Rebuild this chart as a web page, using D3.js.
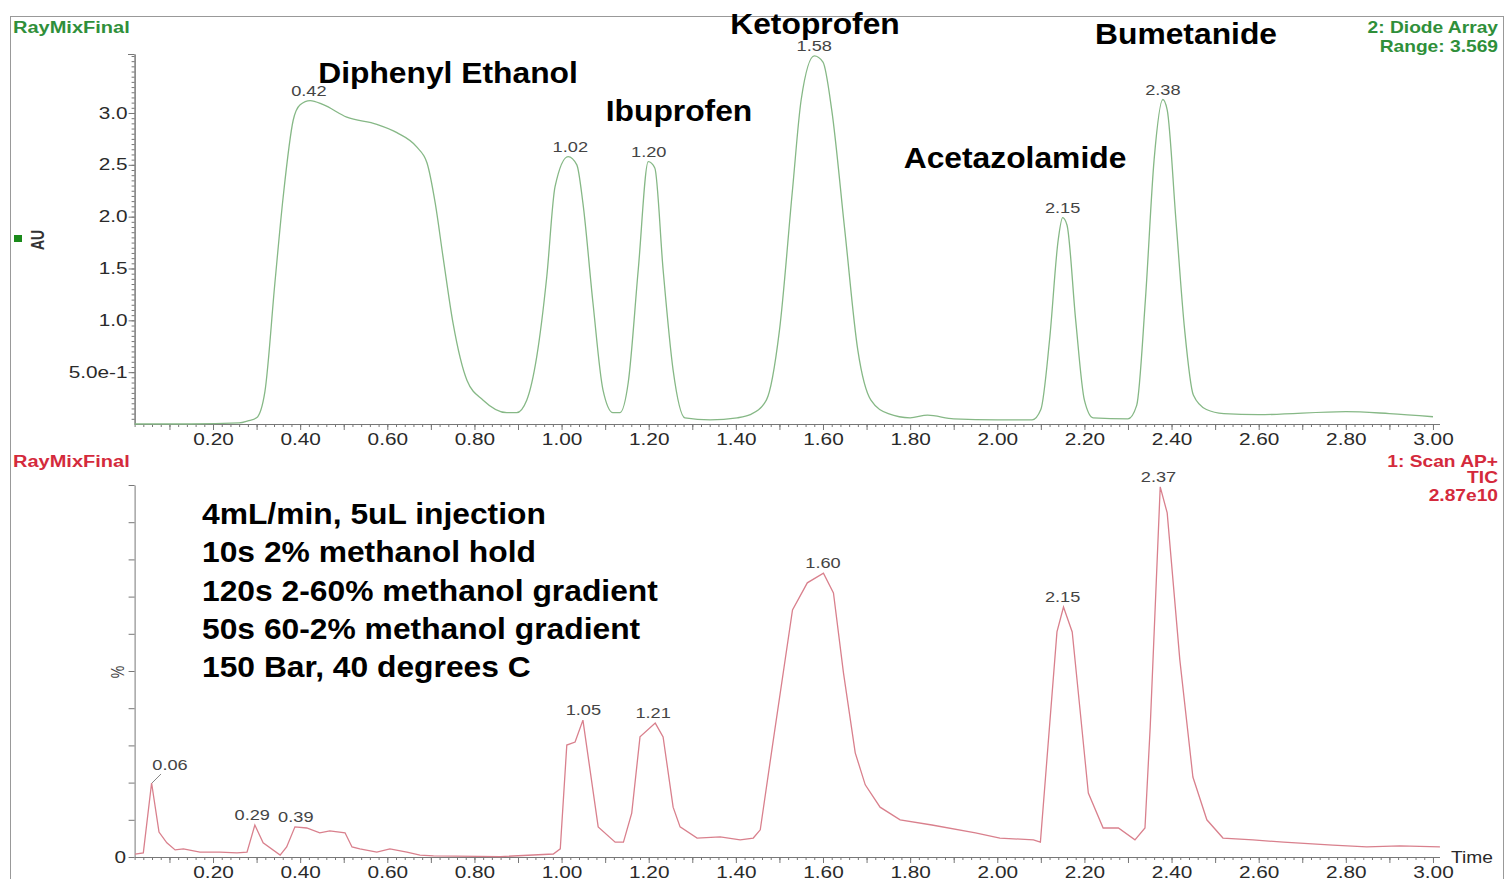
<!DOCTYPE html>
<html>
<head>
<meta charset="utf-8">
<script src="https://cdn.jsdelivr.net/npm/d3@7"></script>
<style>
  html, body { margin: 0; padding: 0; background: #fff; overflow: hidden; }
  svg { display: block; font-family: "Liberation Sans", Arial, sans-serif; }
</style>
</head>
<body>
<div id="chart"></div>
<script>
// ---- data ----
// top: diode array, absorbance (AU)
const topTime = [0.02, 0.15, 0.26, 0.28, 0.30, 0.319, 0.342, 0.361, 0.384, 0.40, 0.423, 0.453, 0.507, 0.576, 0.622, 0.668, 0.691, 0.710, 0.728, 0.751, 0.783, 0.820, 0.874, 0.897, 0.920, 0.943, 0.966, 0.985, 1.015, 1.035, 1.049, 1.072, 1.095, 1.118, 1.134, 1.153, 1.176, 1.199, 1.214, 1.233, 1.256, 1.283, 1.341, 1.403, 1.433, 1.47, 1.50, 1.53, 1.55, 1.58, 1.60, 1.62, 1.65, 1.68, 1.71, 1.75, 1.80, 1.84, 1.90, 2.00, 2.08, 2.10, 2.12, 2.14, 2.15, 2.16, 2.18, 2.20, 2.22, 2.30, 2.32, 2.34, 2.36, 2.38, 2.39, 2.41, 2.43, 2.45, 2.48, 2.52, 2.60, 2.80, 2.90, 3.00];
const topAU   = [0.0, 0.0, 0.01, 0.03, 0.06, 0.31, 1.36, 2.19, 2.93, 3.08, 3.12, 3.08, 2.96, 2.89, 2.81, 2.67, 2.52, 2.13, 1.61, 0.97, 0.42, 0.23, 0.11, 0.11, 0.23, 0.65, 1.42, 2.29, 2.58, 2.50, 2.13, 1.17, 0.33, 0.11, 0.11, 0.40, 1.49, 2.53, 2.47, 1.49, 0.52, 0.06, 0.04, 0.06, 0.09, 0.23, 0.90, 2.26, 3.13, 3.55, 3.49, 3.03, 1.87, 0.71, 0.23, 0.10, 0.06, 0.085, 0.05, 0.04, 0.04, 0.14, 0.81, 1.78, 1.99, 1.92, 1.00, 0.23, 0.06, 0.05, 0.18, 1.20, 2.55, 3.13, 3.03, 1.97, 0.91, 0.28, 0.14, 0.10, 0.09, 0.12, 0.10, 0.07];
const topPeaks = [0.42, 1.02, 1.20, 1.58, 2.15, 2.38];

// bottom: MS TIC, relative intensity (%)
const botTime = [0.021, 0.04, 0.059, 0.076, 0.094, 0.113, 0.132, 0.170, 0.216, 0.255, 0.278, 0.296, 0.315, 0.354, 0.369, 0.388, 0.415, 0.445, 0.468, 0.503, 0.519, 0.537, 0.576, 0.606, 0.645, 0.675, 0.706, 0.859, 0.981, 0.997, 1.012, 1.031, 1.049, 1.084, 1.123, 1.142, 1.161, 1.180, 1.215, 1.233, 1.256, 1.272, 1.311, 1.364, 1.410, 1.440, 1.456, 1.486, 1.530, 1.564, 1.601, 1.624, 1.647, 1.674, 1.697, 1.731, 1.777, 1.85, 1.95, 2.006, 2.083, 2.099, 2.137, 2.152, 2.172, 2.190, 2.209, 2.243, 2.278, 2.316, 2.339, 2.351, 2.374, 2.390, 2.419, 2.449, 2.481, 2.518, 2.587, 2.657, 2.770, 2.848, 2.924, 3.016];
const botPct  = [0.8, 1.1, 19.9, 6.7, 3.8, 1.9, 2.2, 1.3, 1.3, 1.1, 1.3, 8.6, 3.8, 0.5, 2.7, 8.1, 7.8, 6.5, 7.0, 6.5, 2.7, 2.2, 1.3, 2.2, 1.3, 0.5, 0.3, 0.1, 0.8, 2.2, 30.1, 30.9, 36.8, 8.1, 4.0, 4.0, 11.8, 32.3, 36.0, 32.3, 13.4, 8.1, 5.1, 5.4, 4.6, 5.1, 7.3, 31.5, 66.4, 73.7, 76.3, 71.0, 49.5, 28.0, 19.4, 13.4, 10.0, 8.6, 6.5, 5.1, 4.6, 4.0, 60.5, 67.2, 60.5, 39.5, 17.2, 7.8, 7.8, 4.6, 7.8, 34.9, 99.5, 92.5, 53.0, 21.5, 10.0, 5.1, 4.6, 4.0, 3.2, 2.7, 3.0, 2.7];
const botPeaks = [0.06, 0.29, 0.39, 1.05, 1.21, 1.60, 2.15, 2.37];

const xTicks = [0.2, 0.4, 0.6, 0.8, 1.0, 1.2, 1.4, 1.6, 1.8, 2.0, 2.2, 2.4, 2.6, 2.8, 3.0];
const auTicks = [0.5, 1.0, 1.5, 2.0, 2.5, 3.0];
const compounds = ["Diphenyl Ethanol", "Ibuprofen", "Ketoprofen", "Acetazolamide", "Bumetanide"];
const conditions = ["4mL/min, 5uL injection", "10s 2% methanol hold", "120s 2-60% methanol gradient", "50s 60-2% methanol gradient", "150 Bar, 40 degrees C"];

// ---- layout ----
const width = 1507, height = 879;
const S = 1.3;        // the original screenshot is stretched sideways
const green = "#2f8f3a", red = "#d42a3c";
const axisCol = "#777";

const svg = d3.select("#chart").append("svg")
  .attr("width", width).attr("height", height);

// frame
svg.append("rect")
  .attr("x", 10.5).attr("y", 16.5).attr("width", 1493).attr("height", 900)
  .attr("fill", "none").attr("stroke", "#999").attr("stroke-width", 1);

const x = d3.scaleLinear().domain([0.02, 3.015]).range([134.6, 1439.5]);
const yTop = d3.scaleLinear().domain([0, 3.569]).range([424, 54]);
const yBot = d3.scaleLinear().domain([0, 100]).range([857, 485]);

// stretched text helper
function stext(g, px, py, str, opts = {}) {
  return g.append("text")
    .attr("transform", `translate(${px},${py}) scale(${opts.s || S},1)`)
    .attr("text-anchor", opts.anchor || "start")
    .style("font-size", (opts.size || 16) + "px")
    .style("font-weight", opts.weight || "normal")
    .attr("fill", opts.fill || "#333")
    .text(str);
}

function styleAxis(g) {
  g.select(".domain").attr("stroke", axisCol);
  g.selectAll(".tick line").attr("stroke", axisCol);
}

function xAxes(yPos) {
  const minor = d3.range(1, 151).map(i => i * 0.02);
  const mid = d3.range(1, 31).map(i => i * 0.1);
  svg.append("g").attr("transform", `translate(0,${yPos})`)
    .call(d3.axisBottom(x).tickValues(minor).tickSize(3).tickFormat("").tickSizeOuter(0))
    .call(styleAxis);
  const g = svg.append("g").attr("transform", `translate(0,${yPos})`)
    .call(d3.axisBottom(x).tickValues(mid).tickSize(6).tickSizeOuter(0)
      .tickFormat(d => xTicks.some(t => Math.abs(t - d) < 1e-6) ? d3.format(".2f")(d) : ""))
    .call(styleAxis);
  g.selectAll("text")
    .attr("y", 10).attr("transform", `scale(${S},1)`)
    .style("font-size", "16px").attr("fill", "#2a2a2a")
    .style("font-family", "'Liberation Sans', Arial, sans-serif");
}

// ---------------- top panel ----------------
xAxes(424);

const yMinor = d3.range(1, 72).map(i => i * 0.05).filter(v => v <= 3.569);
svg.append("g").attr("transform", "translate(134.6,0)")
  .call(d3.axisLeft(yTop).tickValues(yMinor).tickSize(3).tickFormat("").tickSizeOuter(0))
  .call(styleAxis);
const yAxTop = svg.append("g").attr("transform", "translate(134.6,0)")
  .call(d3.axisLeft(yTop).tickValues(auTicks).tickSize(6).tickSizeOuter(0)
    .tickFormat(d => d === 0.5 ? "5.0e-1" : d3.format(".1f")(d)))
  .call(styleAxis);
yAxTop.selectAll("text")
  .attr("x", -7 / S).attr("transform", `scale(${S},1)`)
  .style("font-size", "16px").attr("fill", "#2a2a2a")
  .style("font-family", "'Liberation Sans', Arial, sans-serif");
svg.append("line").attr("x1", 128).attr("x2", 134.6).attr("y1", 54.5).attr("y2", 54.5).attr("stroke", axisCol);

const topData = topTime.map((t, i) => ({ t, v: topAU[i] }));
svg.append("path")
  .datum(topData)
  .attr("fill", "none")
  .attr("stroke", "#86b886")
  .attr("stroke-width", 1.3)
  .attr("d", d3.line().x(d => x(d.t)).y(d => yTop(d.v)).curve(d3.curveMonotoneX));

function peakVal(data, t) {
  return d3.max(data.filter(d => Math.abs(d.t - t) <= 0.03), d => d.v);
}
topPeaks.forEach(t => {
  stext(svg, x(t), yTop(peakVal(topData, t)) - 5, d3.format(".2f")(t), { anchor: "middle", size: 14, fill: "#444" });
});

stext(svg, 13, 33, "RayMixFinal", { size: 16, weight: "bold", fill: green, s: 1.25 });
stext(svg, 1498, 33, "2: Diode Array", { anchor: "end", size: 16, weight: "bold", fill: green, s: 1.2 });
stext(svg, 1498, 52, "Range: 3.569", { anchor: "end", size: 16, weight: "bold", fill: green, s: 1.2 });

svg.append("rect").attr("x", 14).attr("y", 235).attr("width", 8).attr("height", 7).attr("fill", "#1a8a1a");
svg.append("text")
  .attr("transform", "translate(44,240) rotate(-90) scale(1,1.3)")
  .attr("text-anchor", "middle")
  .style("font-size", "14px").style("font-weight", "bold").attr("fill", "#333")
  .text("AU");

// compound names (bold annotations)
const compoundPos = [[448, 83], [679, 121], [815, 34], [1015, 168], [1186, 44]];
compounds.forEach((c, i) => {
  stext(svg, compoundPos[i][0], compoundPos[i][1], c, { anchor: "middle", size: 30, weight: "bold", fill: "#000", s: 1.06 });
});

// ---------------- bottom panel ----------------
xAxes(857);

svg.append("g").attr("transform", "translate(134.6,0)")
  .call(d3.axisLeft(yBot).tickValues(d3.range(0, 101, 10)).tickSize(6).tickFormat("").tickSizeOuter(0))
  .call(styleAxis);
stext(svg, 126, 863, "0", { anchor: "end", size: 16, fill: "#2a2a2a" });
svg.append("text")
  .attr("transform", "translate(124,672) rotate(-90) scale(1,1.3)")
  .attr("text-anchor", "middle")
  .style("font-size", "14px").attr("fill", "#444")
  .text("%");

const botData = botTime.map((t, i) => ({ t, v: botPct[i] }));
svg.append("path")
  .datum(botData)
  .attr("fill", "none")
  .attr("stroke", "#d9808d")
  .attr("stroke-width", 1.3)
  .attr("d", d3.line().x(d => x(d.t)).y(d => yBot(d.v)));

botPeaks.forEach(t => {
  const px = x(t), py = yBot(peakVal(botData, t));
  if (t === 0.06) {
    // label pushed aside with a leader line
    svg.append("line").attr("x1", px).attr("y1", py).attr("x2", px + 9).attr("y2", py - 9)
      .attr("stroke", "#666").attr("stroke-width", 0.8);
    stext(svg, px + 18, py - 13, "0.06", { anchor: "middle", size: 14, fill: "#444" });
  } else {
    stext(svg, px, py - 5, d3.format(".2f")(t), { anchor: "middle", size: 14, fill: "#444" });
  }
});

stext(svg, 13, 467, "RayMixFinal", { size: 16, weight: "bold", fill: red, s: 1.25 });
stext(svg, 1498, 467, "1: Scan AP+", { anchor: "end", size: 16, weight: "bold", fill: red, s: 1.2 });
stext(svg, 1498, 483, "TIC", { anchor: "end", size: 16, weight: "bold", fill: red, s: 1.2 });
stext(svg, 1498, 501, "2.87e10", { anchor: "end", size: 16, weight: "bold", fill: red, s: 1.2 });
stext(svg, 1451, 863, "Time", { size: 16, fill: "#2a2a2a", s: 1.2 });

conditions.forEach((c, i) => {
  stext(svg, 202, 524 + i * 38.3, c, { size: 30, weight: "bold", fill: "#000", s: 1.06 });
});
</script>
</body>
</html>
